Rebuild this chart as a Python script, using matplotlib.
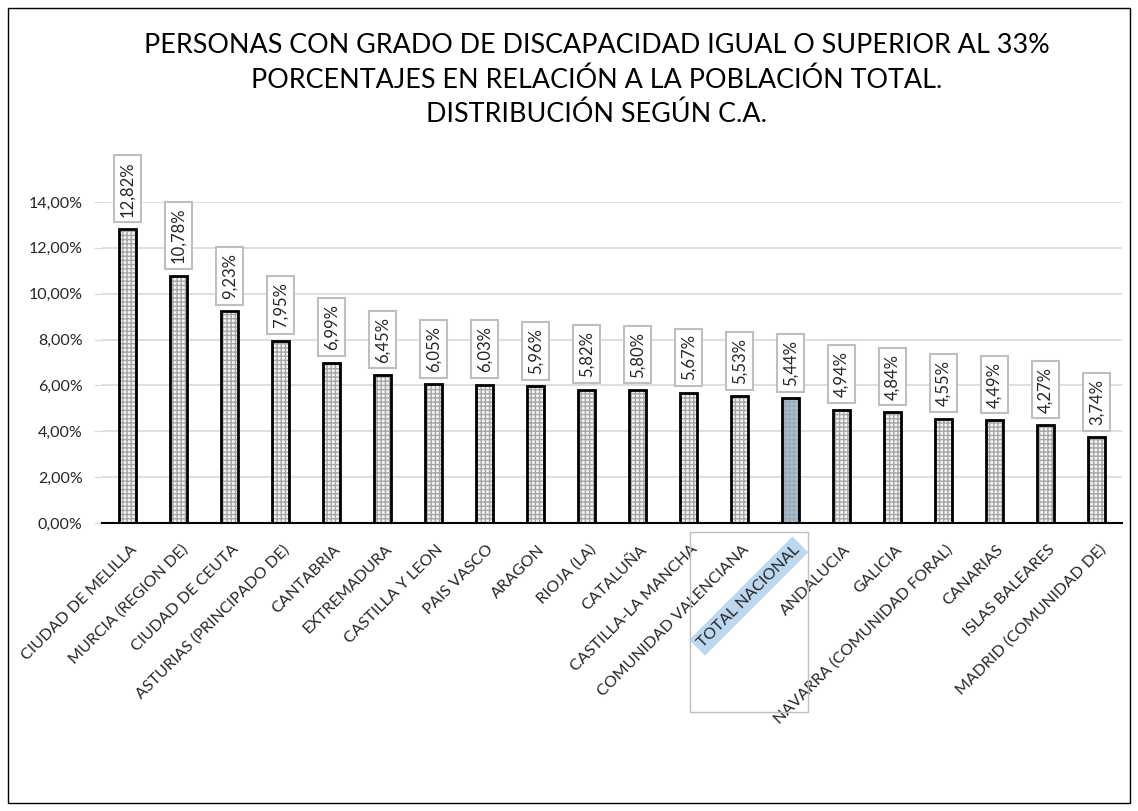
import matplotlib.pyplot as plt
import matplotlib.patches as mpatches
import matplotlib.transforms as mtransforms

# Datos
comunidades = ['CIUDAD DE MELILLA', 'MURCIA (REGION DE)', 'CIUDAD DE CEUTA',
               'ASTURIAS (PRINCIPADO DE)', 'CANTABRIA', 'EXTREMADURA',
               'CASTILLA Y LEON', 'PAIS VASCO', 'ARAGON', 'RIOJA (LA)',
               'CATALUÑA', 'CASTILLA-LA MANCHA', 'COMUNIDAD VALENCIANA',
               'TOTAL NACIONAL', 'ANDALUCIA', 'GALICIA',
               'NAVARRA (COMUNIDAD FORAL)', 'CANARIAS', 'ISLAS BALEARES',
               'MADRID (COMUNIDAD DE)']
porcentajes = [12.82, 10.78, 9.23, 7.95, 6.99, 6.45, 6.05, 6.03, 5.96, 5.82,
               5.80, 5.67, 5.53, 5.44, 4.94, 4.84, 4.55, 4.49, 4.27, 3.74]
etiquetas_y = ['0,00%', '2,00%', '4,00%', '6,00%', '8,00%', '10,00%', '12,00%', '14,00%']
valores_y = [0, 2, 4, 6, 8, 10, 12, 14]

plt.rcParams['font.family'] = ['Lato', 'DejaVu Sans']

fig = plt.figure(figsize=(11.38, 8.11), dpi=100)
ax = fig.add_axes([102 / 1138, 1 - 523 / 811, 1020 / 1138, 321 / 811])

x = list(range(len(comunidades)))
colores = ['#9dc3e6' if c == 'TOTAL NACIONAL' else '#f4f4f4' for c in comunidades]

# Relleno con trama de cuadricula
ax.bar(x, porcentajes, width=0.33, color=colores, edgecolor='#a6a6a6',
       hatch='++++', linewidth=0, zorder=2)
# Contorno negro
ax.bar(x, porcentajes, width=0.33, fill=False, edgecolor='black',
       linewidth=2, zorder=3)

# Etiquetas de valores
for xi, v in zip(x, porcentajes):
    ax.annotate(f'{v:.2f}%'.replace('.', ','), (xi, v), xytext=(0, 9),
                textcoords='offset points', rotation=90, ha='center', va='bottom',
                fontsize=12, color='#262626', annotation_clip=False,
                bbox=dict(boxstyle='square,pad=0.35', facecolor='white',
                          edgecolor='#bfbfbf', linewidth=1.5))

ax.set_ylim(0, 14)
ax.set_xlim(-0.5, len(comunidades) - 0.5)
ax.set_yticks(valores_y)
ax.set_yticklabels(etiquetas_y, fontsize=11.5, color='#262626')
ax.yaxis.grid(True, color='#d9d9d9', linewidth=1.2, zorder=0)
ax.set_axisbelow(True)
ax.tick_params(axis='y', length=6, color='#d9d9d9', pad=8)
ax.tick_params(axis='x', length=0, pad=14)
for lado in ['top', 'right', 'left']:
    ax.spines[lado].set_visible(False)
ax.spines['bottom'].set_linewidth(1.5)

ax.set_xticks(x)
ax.set_xticklabels(comunidades, rotation=45, ha='right', rotation_mode='anchor',
                   fontsize=11.5, color='#262626')
desplaza = mtransforms.ScaledTranslation(2 / 100, 0, fig.dpi_scale_trans)
for lab in ax.get_xticklabels():
    lab.set_transform(lab.get_transform() + desplaza)
    if lab.get_text() == 'TOTAL NACIONAL':
        lab.set_bbox(dict(facecolor='#bdd7ee', edgecolor='none', pad=3))

# Recuadro alrededor de TOTAL NACIONAL
fig.patches.append(mpatches.Rectangle((690 / 1138, 1 - 712 / 811), 118 / 1138, 180 / 811,
                                      transform=fig.transFigure, fill=False,
                                      edgecolor='#bfbfbf', linewidth=1))

# Titulo
fig.text(597 / 1138, 1 - 80 / 811,
         'PERSONAS CON GRADO DE DISCAPACIDAD IGUAL O SUPERIOR AL 33%\n'
         'PORCENTAJES EN RELACIÓN A LA POBLACIÓN TOTAL.\n'
         'DISTRIBUCIÓN SEGÚN C.A.',
         ha='center', va='center', fontsize=19.4, linespacing=1.45, color='black')

# Borde exterior
fig.patches.append(mpatches.Rectangle((8 / 1138, 8 / 811), 1122 / 1138, 795 / 811,
                                      transform=fig.transFigure, fill=False,
                                      edgecolor='black', linewidth=1))

fig.savefig('out.png', dpi=100)
